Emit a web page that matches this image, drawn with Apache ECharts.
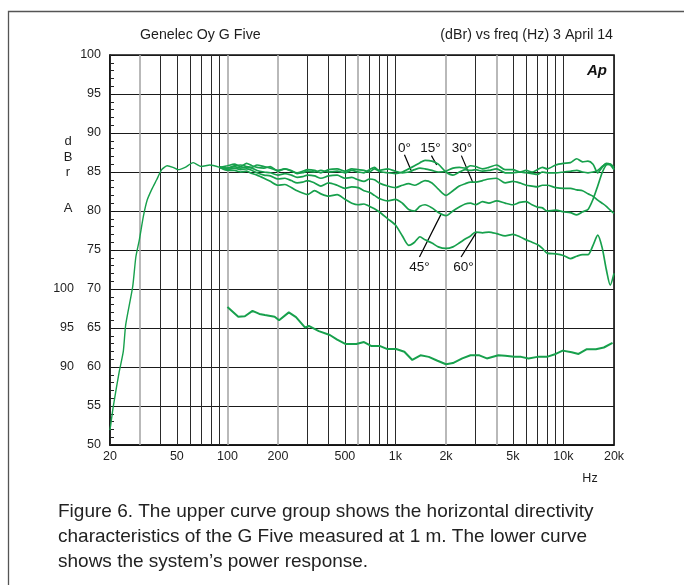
<!DOCTYPE html>
<html>
<head>
<meta charset="utf-8">
<script src="https://cdn.jsdelivr.net/npm/echarts@6.0.0/dist/echarts.min.js"></script>
<style>
html,body{margin:0;padding:0;background:#ffffff;}
#c{width:684px;height:585px;}
</style>
</head>
<body>
<div id="c"></div>
<script>
// ---------- data ----------
// shared low-frequency part of the directivity curves (Hz, dBrA)
const lfFreq  = [20, 20.9, 22.7, 24.0, 24.8, 27.3, 28.5, 29.9, 31.6, 33.3, 35.5, 37.9, 40.6, 43.8, 47.4, 50.8, 56, 62.5, 70, 78.6, 90];
const lfLevel = [51.9, 54.9, 59.4, 62.0, 65.4, 70.3, 74.1, 76.3, 79.3, 81.4, 82.8, 84.0, 85.3, 85.8, 85.6, 85.3, 85.6, 86.2, 85.7, 85.9, 85.6];

// directivity curves from 90 Hz up
const dirFreq = [90,100,110,120,130,140,150,165,180,200,220,240,260,280,300,330,360,400,450,500,550,600,650,700,750,800,900,1000,1100,1200,1300,1400,1500,1650,1800,2000,2200,2400,2600,2800,3000,3300,3600,4000,4500,5000,5500,6000,6500,7000,7500,8000,9000,10000,11000,12000,13000,14000,15000,16000,17000,18000,19000,20000];
const dir0 = [85.6,85.5,85.8,85.9,85.7,85.6,85.9,85.7,85.5,85.2,
              85.4,85.1,84.9,85.1,85.3,85.2,84.9,85.3,85.4,85.1,
              85.4,85.3,85.2,85.0,85.4,85.2,85.4,85.1,84.9,85.0,
              85.3,85.5,85.4,85.2,85.0,85.1,85.5,85.6,85.5,85.8,
              85.7,85.4,85.6,85.9,85.3,85.3,85.0,85.2,85.0,85.3,
              85.6,85.4,85.9,86.1,86.2,86.7,86.3,86.4,86.0,84.9,
              85.6,86.1,86.0,85.6];
const dir15 = [85.6,85.8,86.0,85.7,86.1,85.8,85.6,85.5,85.7,85.1,
               85.4,85.2,84.8,84.9,85.1,85.0,85.2,85.0,85.1,84.9,
               85.2,85.0,84.9,85.3,85.6,85.1,84.9,84.8,85.0,85.4,
               85.8,86.2,86.5,86.4,86.0,85.0,84.6,85.0,85.3,85.2,
               85.3,85.1,85.2,85.4,84.9,84.9,85.0,84.9,84.8,84.7,
               85.0,84.9,84.9,85.0,85.1,85.2,85.0,84.9,85.0,85.2,
               85.7,86.0,85.9,85.3];
const dir30 = [85.6,85.5,85.7,85.5,85.6,85.5,85.2,85.0,84.9,84.6,
               84.8,84.6,84.3,84.4,84.6,84.5,84.2,84.5,84.6,84.2,
               84.3,84.0,83.8,84.1,84.0,83.6,83.2,83.0,83.3,83.5,
               83.3,83.6,83.9,83.6,82.8,82.0,82.6,83.2,83.5,83.7,
               83.7,83.9,84.1,84.2,83.6,83.8,83.6,83.3,83.2,83.1,
               83.3,83.3,83.0,82.9,82.9,82.7,82.6,82.2,81.9,81.4,
               81.0,80.6,80.1,79.7];
const dir45 = [85.6,85.3,85.5,85.3,85.4,85.2,84.9,84.6,84.5,84.1,
               84.2,83.9,83.6,83.7,83.9,83.6,83.2,83.6,83.3,82.9,
               83.1,83.0,82.6,82.4,82.0,81.6,81.3,81.5,81.0,80.2,
               80.0,80.6,80.8,80.4,79.8,79.4,80.0,80.5,80.9,81.0,
               80.8,81.2,81.0,81.3,81.0,80.8,81.1,81.2,80.8,80.5,
               80.4,80.0,80.1,79.9,79.8,79.5,79.9,80.2,81.5,83.2,
               84.9,85.9,86.0,85.4];
const dir60 = [85.6,85.2,85.2,85.0,85.1,84.8,84.6,84.2,83.8,83.3,
               83.4,83.0,82.6,82.3,82.1,82.6,82.2,81.9,82.1,81.5,
               81.0,80.8,80.9,80.6,80.3,79.9,79.0,78.2,76.8,75.6,
               76.0,76.7,76.3,75.9,75.4,75.2,75.4,75.9,76.4,76.8,
               77.3,77.2,77.3,77.1,76.8,77.0,76.7,76.3,76.0,75.7,
               75.2,74.6,74.5,74.3,73.9,74.2,74.4,74.4,75.6,76.9,
               75.3,72.5,70.5,72.0];

// power response (own dB scale, shown on the inner left labels 90/95/100)
const powerFreq  = [100,116,127,141,155,167,191,203,232,256,290,305,350,407,450,503,585,650,716,805,896,1010,1130,1260,1410,1580,1780,2000,2200,2500,2800,3160,3500,4100,4500,5100,5600,6200,7000,7970,9000,9900,11200,12300,13700,15600,17400,19600];
const powerLevel = [97.7,96.45,96.5,97.2,96.8,96.67,96.45,96.0,97.0,96.4,95.04,95.26,94.6,94.1,93.5,92.95,92.95,93.2,92.7,92.7,92.3,92.3,91.96,90.9,91.5,91.3,90.8,90.35,90.5,91.1,91.5,91.5,91.1,91.5,91.45,91.3,91.3,91.1,91.3,91.3,91.67,92.1,91.9,91.67,92.27,92.27,92.5,93.1];

// axes / ticks
const yTicks = [50,55,60,65,70,75,80,85,90,95,100];
const powerTickLabels = [90,95,100];
const gridFreqsDark = [20,40,50,60,70,80,90,300,400,500,700,800,900,1000,3000,5000,6000,7000,8000,9000,10000,20000];
const gridFreqsGray = [30,100,200,600,2000,4000];
const xTickLabels = {20:'20', 50:'50', 100:'100', 200:'200', 500:'500', 1000:'1k', 2000:'2k', 5000:'5k', 10000:'10k', 20000:'20k'};

// curve annotations: [freq, dB, text] and leader lines [[f1,v1],[f2,v2]]
const angleLabels = [[1132,88.1,'0°'],[1616,88.1,'15°'],[2486,88.1,'30°'],[1390,72.8,'45°'],[2538,72.8,'60°']];
const angleLeaders = [
  [[1132,87.2],[1240,85.2]],
  [[1638,87.1],[1760,85.9]],
  [[2469,87.1],[2882,83.7]],
  [[1390,74.1],[1870,79.6]],
  [[2459,74.1],[3020,77.2]]
];

const captionLines = [
  'Figure 6. The upper curve group shows the horizontal directivity',
  'characteristics of the G Five measured at 1 m. The lower curve',
  'shows the system\u2019s power response.'
];

// ---------- chart ----------
const FONT = '"Liberation Sans", Arial, Helvetica, sans-serif';
const GREEN = '#17a04c';
const INK = '#1e1e1e';

const pairs = (xs, ys) => xs.map((x, i) => [x, ys[i]]);

function gridMark(f, color, width) {
  const t = xTickLabels[f];
  return {
    xAxis: f,
    lineStyle: {color: color, width: width, type: 'solid'},
    label: t ? {show: true, formatter: t, position: 'start', distance: 5, color: INK, fontSize: 12.5, fontFamily: FONT}
             : {show: false}
  };
}
const gridMarks = gridFreqsDark.map(f => gridMark(f, '#2a2a2a', 1))
  .concat(gridFreqsGray.map(f => gridMark(f, '#a8a8a8', 1.6)));

const dirSeries = [dir0, dir15, dir30, dir45, dir60].map((arr, k) => ({
  type: 'line', name: ['0°','15°','30°','45°','60°'][k],
  data: pairs(dirFreq, arr), symbol: 'none', smooth: 0.25,
  lineStyle: {color: GREEN, width: 1.7}, z: 5, silent: true
}));

const graphics = [
  {type: 'rect', shape: {x: 8.5, y: 11.5, width: 700, height: 600}, style: {fill: 'none', stroke: '#555', lineWidth: 1.3}, silent: true},
  {type: 'text', x: 140, y: 35, style: {text: 'Genelec Oy G Five', font: '14.2px ' + FONT, fill: INK, textAlign: 'left', textVerticalAlign: 'middle'}},
  {type: 'text', x: 613, y: 35, style: {text: '(dBr) vs freq (Hz) 3 April 14', font: '14.2px ' + FONT, fill: INK, textAlign: 'right', textVerticalAlign: 'middle'}},
  {type: 'text', x: 607, y: 71, style: {text: 'Ap', font: 'italic bold 15px ' + FONT, fill: '#111', textAlign: 'right', textVerticalAlign: 'middle'}},
  {type: 'text', x: 68, y: 141, style: {text: 'd', font: '13px ' + FONT, fill: INK, textAlign: 'center', textVerticalAlign: 'middle'}},
  {type: 'text', x: 68, y: 157, style: {text: 'B', font: '13px ' + FONT, fill: INK, textAlign: 'center', textVerticalAlign: 'middle'}},
  {type: 'text', x: 68, y: 172, style: {text: 'r', font: '13px ' + FONT, fill: INK, textAlign: 'center', textVerticalAlign: 'middle'}},
  {type: 'text', x: 68, y: 208, style: {text: 'A', font: '13px ' + FONT, fill: INK, textAlign: 'center', textVerticalAlign: 'middle'}},
  {type: 'text', x: 590, y: 479, style: {text: 'Hz', font: '12.5px ' + FONT, fill: INK, textAlign: 'center', textVerticalAlign: 'middle'}}
];
captionLines.forEach((t, i) => graphics.push({
  type: 'text', x: 58, y: 512 + i * 25,
  style: {text: t, font: '19px ' + FONT, fill: '#222', textAlign: 'left', textVerticalAlign: 'middle'}
}));

const chart = echarts.init(document.getElementById('c'), null, {renderer: 'canvas'});
chart.setOption({
  animation: false,
  backgroundColor: '#ffffff',
  textStyle: {fontFamily: FONT},
  grid: {left: 110, right: 70, top: 55, bottom: 140, show: true, borderColor: '#111', borderWidth: 1.6, backgroundColor: 'transparent', containLabel: false, outerBoundsMode: 'none'},
  xAxis: {
    type: 'log', logBase: 10, min: 20, max: 20000,
    axisLine: {show: true, lineStyle: {color: '#111', width: 1.6}},
    axisTick: {show: false}, axisLabel: {show: false}, splitLine: {show: false}, minorTick: {show: false}
  },
  yAxis: [
    {
      type: 'value', min: 50, max: 100, interval: 5, position: 'left',
      axisLine: {show: true, lineStyle: {color: '#111', width: 1.6}},
      axisTick: {show: true, inside: true, length: 5, lineStyle: {color: '#111'}},
      minorTick: {show: true, splitNumber: 5, length: 4, lineStyle: {color: '#222', width: 1}},
      axisLabel: {show: true, margin: 9, color: INK, fontSize: 12.5, fontFamily: FONT,
                  formatter: v => yTicks.indexOf(v) >= 0 ? String(v) : ''},
      splitLine: {show: true, lineStyle: {color: '#1a1a1a', width: 1.2}}
    },
    {
      type: 'value', min: 80, max: 130, interval: 5, position: 'left',
      axisLine: {show: false}, axisTick: {show: false}, splitLine: {show: false},
      axisLabel: {show: true, margin: 36, color: INK, fontSize: 12.5, fontFamily: FONT,
                  formatter: v => powerTickLabels.indexOf(v) >= 0 ? String(v) : ''}
    }
  ],
  series: [
    {
      type: 'line', name: 'grid', data: [], z: 1, silent: true,
      markLine: {silent: true, symbol: ['none', 'none'], animation: false,
                 lineStyle: {type: 'solid'}, label: {show: false}, data: gridMarks}
    },
    {
      type: 'line', name: 'low', data: pairs(lfFreq, lfLevel), symbol: 'none', smooth: 0.2,
      lineStyle: {color: GREEN, width: 1.4}, z: 5, silent: true
    },
    ...dirSeries,
    {
      type: 'line', name: 'power', yAxisIndex: 1, data: pairs(powerFreq, powerLevel), symbol: 'none',
      lineStyle: {color: GREEN, width: 2}, z: 5, silent: true
    },
    {
      type: 'line', name: 'annotations', data: [], z: 6, silent: true,
      markPoint: {silent: true, animation: false, symbol: 'circle', symbolSize: 0,
                  itemStyle: {color: '#111'},
                  label: {show: true, position: 'inside', formatter: '{c}', color: '#111', fontSize: 13.5, fontFamily: FONT},
                  data: angleLabels.map(([f, v, t]) => ({coord: [f, v], value: t}))},
      markLine: {silent: true, symbol: ['none', 'none'], animation: false, label: {show: false},
                 lineStyle: {color: '#000', width: 1.2, type: 'solid', opacity: 1},
                 data: angleLeaders.map(([a, b]) => [{coord: a}, {coord: b}])}
    }
  ],
  graphic: graphics
});
</script>
</body>
</html>
